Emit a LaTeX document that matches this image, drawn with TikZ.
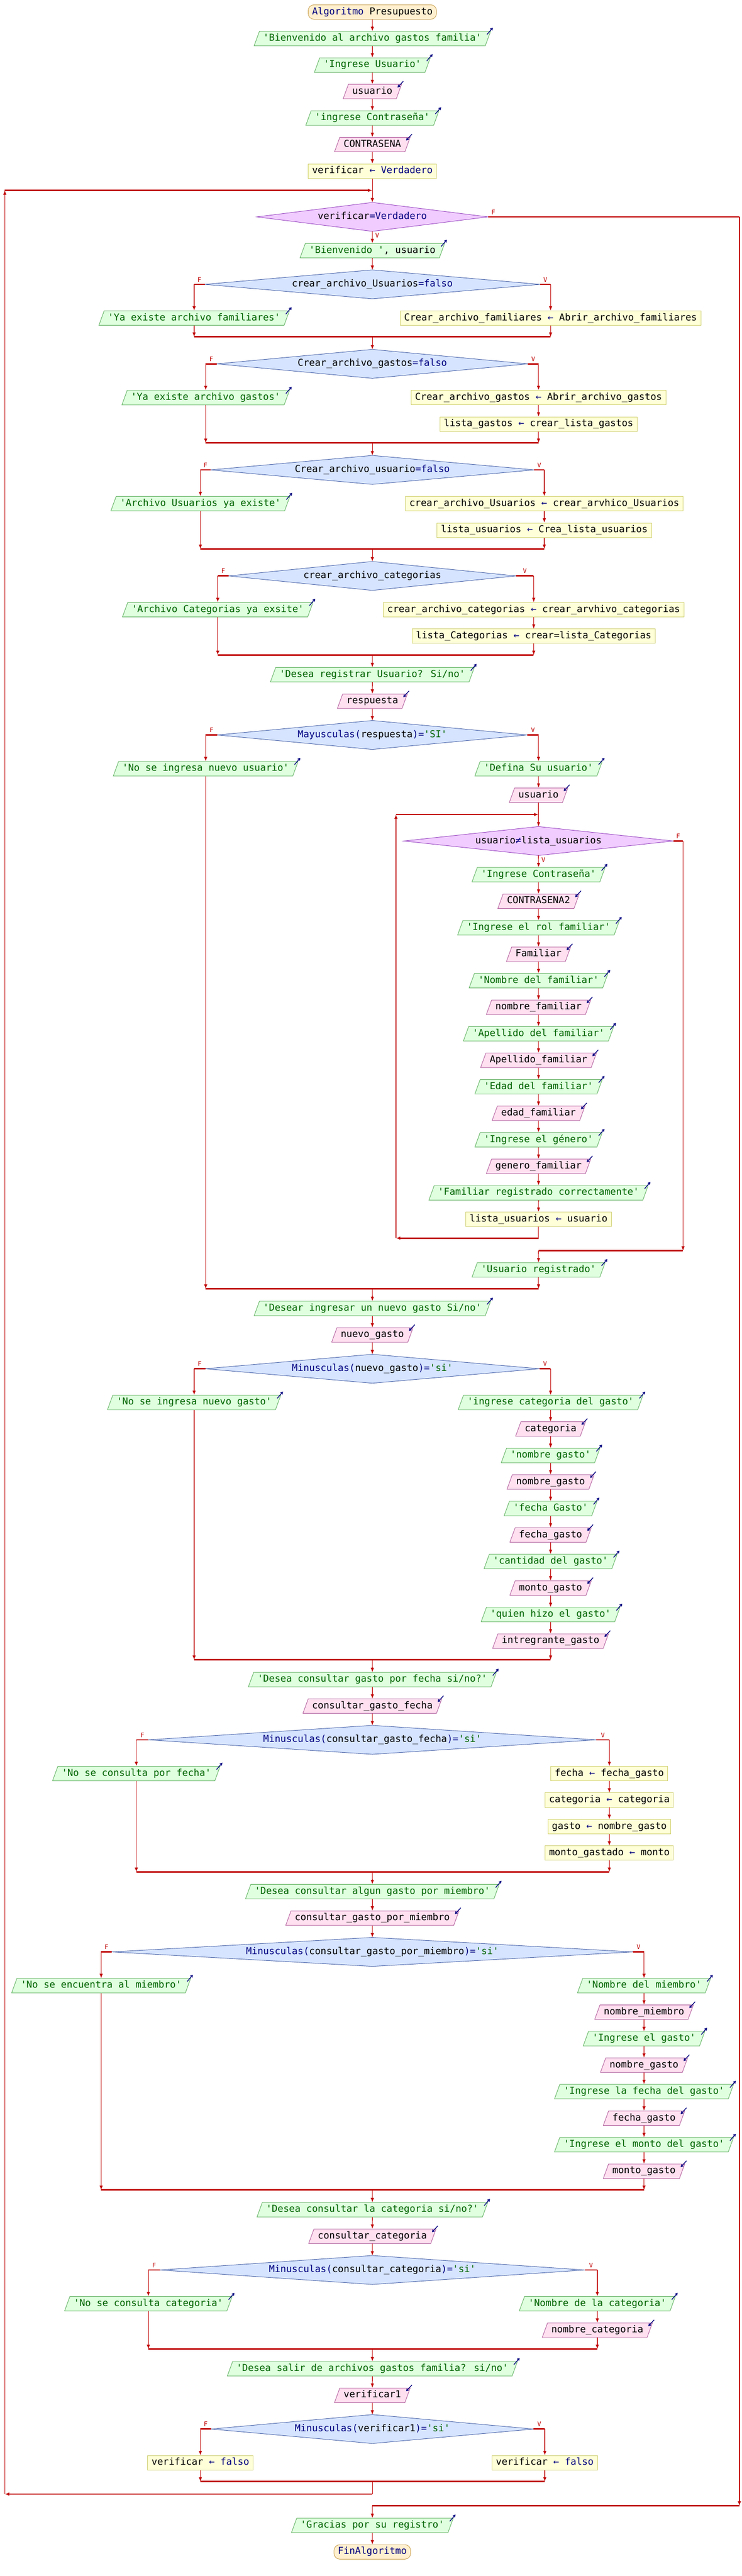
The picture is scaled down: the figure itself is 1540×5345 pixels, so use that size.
\documentclass[tikz,border=0pt]{standalone}
\usepackage{fontspec}
\newfontfamily\mono{DejaVu Sans Mono}
\usetikzlibrary{shapes.geometric,arrows.meta,calc}
\definecolor{cred}{HTML}{C00000}
\definecolor{outfill}{HTML}{DFFFDF}
\definecolor{outdraw}{HTML}{5FAF5F}
\definecolor{inpfill}{HTML}{FFE0F0}
\definecolor{inpdraw}{HTML}{B05C9C}
\definecolor{asgfill}{HTML}{FFFFD8}
\definecolor{asgdraw}{HTML}{CFCF70}
\definecolor{decfill}{HTML}{D6E4FF}
\definecolor{decdraw}{HTML}{4A64A8}
\definecolor{lpfill}{HTML}{F0CCFF}
\definecolor{lpdraw}{HTML}{9848C0}
\definecolor{termfill}{HTML}{FFF0D0}
\definecolor{termdraw}{HTML}{C8A050}
\definecolor{sgreen}{HTML}{006400}
\definecolor{navy}{HTML}{000080}
\newcommand\q{\textquotesingle}
\newcommand\Kw[1]{\textcolor{navy}{#1}}
\newcommand\Gs[1]{\textcolor{sgreen}{#1}}
\tikzset{
  base/.style={font=\mono\fontsize{19.8}{24}\selectfont, text height=14pt, text depth=4pt,
    inner xsep=8pt, inner ysep=6pt, line width=1pt, draw},
  outb/.style={base, trapezium, trapezium left angle=70, trapezium right angle=110,
    fill=outfill, draw=outdraw, text=sgreen},
  inpb/.style={base, trapezium, trapezium left angle=70, trapezium right angle=110,
    fill=inpfill, draw=inpdraw, text=black},
  asgb/.style={base, rectangle, fill=asgfill, draw=asgdraw},
  termb/.style={base, rectangle, rounded corners=12pt, fill=termfill, draw=termdraw},
  decb/.style 2 args={font=\mono\fontsize{19.8}{24}\selectfont, text height=14pt, text depth=4pt,
    diamond, inner sep=0pt, outer sep=0pt, minimum width=#1, minimum height=60pt, aspect=#2,
    fill=decfill, draw=decdraw, line width=1pt},
  loopb/.style 2 args={decb={#1}{#2}, fill=lpfill, draw=lpdraw},
  tipA/.style={-{Latex[length=9pt,width=7pt]}},
  flow/.style={draw=cred, line width=1.3pt, tipA},
  jline/.style={draw=cred, line width=3pt},
  stub/.style={draw=cred, line width=3pt},
  fv/.style={font=\mono\fontsize{13}{15}\selectfont, text=cred, inner sep=0pt},
  icon/.style={draw=navy, line width=1.5pt, -{Straight Barb[length=4pt,width=5pt]}}
}
% #1 diamond, #2 first left, #3 last left, #4 first right, #5 last right, #6 join coordinate
\newcommand\branch[6]{%
  \draw[stub] (#1.west) -- (#1.west -| #2.north) coordinate (#1L);
  \draw[flow] (#1L) -- (#2.north);
  \draw[stub] (#1.east) -- (#1.east -| #4.north) coordinate (#1R);
  \draw[flow] (#1R) -- (#4.north);
  \draw[flow] (#3.south) -- (#3.south |- #6);
  \draw[flow] (#5.south) -- (#5.south |- #6);
  \draw[jline] (#3.south |- #6) -- (#5.south |- #6);
  \node[fv] (#1F) at ($(#1.west)!0.5!(#1L)+(0,-10)$) {F};
  \node[fv] (#1V) at ($(#1.east)!0.5!(#1R)+(0,-10)$) {V};
}
\begin{document}
\begin{tikzpicture}[x=1pt,y=-1pt]
\fill[white] (0,0) rectangle (1540,5345);
\useasboundingbox (0,0) rectangle (1540,5345);

\node[termb] (n1) at (773,25) {\Kw{Algoritmo} Presupuesto};
\node[outb] (n2) at (773,80) {\q Bienvenido al archivo gastos familia\q};
\node[outb] (n3) at (773,135) {\q Ingrese Usuario\q};
\node[inpb] (n4) at (773,190) {usuario};
\node[outb] (n5) at (773,245) {\q ingrese Contraseña\q};
\node[inpb] (n6) at (773,300) {CONTRASENA};
\node[asgb] (n7) at (773,355) {verificar \Kw{←} \Kw{Verdadero}};
\node[loopb={480pt}{8}] (d1) at (773,450) {verificar\Kw{=Verdadero}};
\node[outb] (n8) at (773,520) {\q Bienvenido \q\textcolor{black}{, usuario}};
\node[decb={696pt}{11.6}] (d2) at (773,590) {crear\_archivo\_Usuarios\Kw{=falso}};
\node[outb] (n9) at (403,660) {\q Ya existe archivo familiares\q};
\node[asgb] (n10) at (1143,660) {Crear\_archivo\_familiares \Kw{←} Abrir\_archivo\_familiares};
\node[decb={646pt}{10.77}] (d3) at (773,755) {Crear\_archivo\_gastos\Kw{=falso}};
\node[outb] (n11) at (427,825) {\q Ya existe archivo gastos\q};
\node[asgb] (n12) at (1118,825) {Crear\_archivo\_gastos \Kw{←} Abrir\_archivo\_gastos};
\node[asgb] (n13) at (1118,880) {lista\_gastos \Kw{←} crear\_lista\_gastos};
\node[decb={672pt}{11.2}] (d4) at (773,975) {Crear\_archivo\_usuario\Kw{=falso}};
\node[outb] (n14) at (416,1045) {\q Archivo Usuarios ya existe\q};
\node[asgb] (n15) at (1130,1045) {crear\_archivo\_Usuarios \Kw{←} crear\_arvhico\_Usuarios};
\node[asgb] (n16) at (1130,1100) {lista\_usuarios \Kw{←} Crea\_lista\_usuarios};
\node[decb={596pt}{9.93}] (d5) at (773,1195) {crear\_archivo\_categorias};
\node[outb] (n17) at (452,1265) {\q Archivo Categorias ya exsite\q};
\node[asgb] (n18) at (1108,1265) {crear\_archivo\_categorias \Kw{←} crear\_arvhivo\_categorias};
\node[asgb] (n19) at (1108,1320) {lista\_Categorias \Kw{←} crear=lista\_Categorias};
\node[outb] (n20) at (773,1400) {\q Desea registrar Usuario? Si/no\q};
\node[inpb] (n21) at (773,1455) {respuesta};
\node[decb={644pt}{10.73}] (d6) at (773,1525) {\Kw{Mayusculas(}respuesta\Kw{)=}\Gs{\q SI\q}};
\node[outb] (n22) at (427,1595) {\q No se ingresa nuevo usuario\q};
\node[outb] (n23) at (1118,1595) {\q Defina Su usuario\q};
\node[inpb] (n24) at (1118,1650) {usuario};
\node[loopb={560pt}{9.33}] (d7) at (1118,1745) {usuario\Kw{≠}lista\_usuarios};
\node[outb] (n25) at (1118,1815) {\q Ingrese Contraseña\q};
\node[inpb] (n26) at (1118,1870) {CONTRASENA2};
\node[outb] (n27) at (1118,1925) {\q Ingrese el rol familiar\q};
\node[inpb] (n28) at (1118,1980) {Familiar};
\node[outb] (n29) at (1118,2035) {\q Nombre del familiar\q};
\node[inpb] (n30) at (1118,2090) {nombre\_familiar};
\node[outb] (n31) at (1118,2145) {\q Apellido del familiar\q};
\node[inpb] (n32) at (1118,2200) {Apellido\_familiar};
\node[outb] (n33) at (1118,2255) {\q Edad del familiar\q};
\node[inpb] (n34) at (1118,2310) {edad\_familiar};
\node[outb] (n35) at (1118,2365) {\q Ingrese el género\q};
\node[inpb] (n36) at (1118,2420) {genero\_familiar};
\node[outb] (n37) at (1118,2475) {\q Familiar registrado correctamente\q};
\node[asgb] (n38) at (1118,2530) {lista\_usuarios \Kw{←} usuario};
\node[outb] (n39) at (1118,2635) {\q Usuario registrado\q};
\node[outb] (n40) at (773,2715) {\q Desear ingresar un nuevo gasto Si/no\q};
\node[inpb] (n41) at (773,2770) {nuevo\_gasto};
\node[decb={694pt}{11.57}] (d8) at (773,2840) {\Kw{Minusculas(}nuevo\_gasto\Kw{)=}\Gs{\q si\q}};
\node[outb] (n42) at (403,2910) {\q No se ingresa nuevo gasto\q};
\node[outb] (n43) at (1143,2910) {\q ingrese categoria del gasto\q};
\node[inpb] (n44) at (1143,2965) {categoria};
\node[outb] (n45) at (1143,3020) {\q nombre gasto\q};
\node[inpb] (n46) at (1143,3075) {nombre\_gasto};
\node[outb] (n47) at (1143,3130) {\q fecha Gasto\q};
\node[inpb] (n48) at (1143,3185) {fecha\_gasto};
\node[outb] (n49) at (1143,3240) {\q cantidad del gasto\q};
\node[inpb] (n50) at (1143,3295) {monto\_gasto};
\node[outb] (n51) at (1143,3350) {\q quien hizo el gasto\q};
\node[inpb] (n52) at (1143,3405) {intregrante\_gasto};
\node[outb] (n53) at (773,3485) {\q Desea consultar gasto por fecha si/no?\q};
\node[inpb] (n54) at (773,3540) {consultar\_gasto\_fecha};
\node[decb={930pt}{15.5}] (d9) at (773,3610) {\Kw{Minusculas(}consultar\_gasto\_fecha\Kw{)=}\Gs{\q si\q}};
\node[outb] (n55) at (283,3680) {\q No se consulta por fecha\q};
\node[asgb] (n56) at (1265,3680) {fecha \Kw{←} fecha\_gasto};
\node[asgb] (n57) at (1265,3735) {categoria \Kw{←} categoria};
\node[asgb] (n58) at (1265,3790) {gasto \Kw{←} nombre\_gasto};
\node[asgb] (n59) at (1265,3845) {monto\_gastado \Kw{←} monto};
\node[outb] (n60) at (773,3925) {\q Desea consultar algun gasto por miembro\q};
\node[inpb] (n61) at (773,3980) {consultar\_gasto\_por\_miembro};
\node[decb={1082pt}{18.03}] (d10) at (773,4050) {\Kw{Minusculas(}consultar\_gasto\_por\_miembro\Kw{)=}\Gs{\q si\q}};
\node[outb] (n62) at (210,4120) {\q No se encuentra al miembro\q};
\node[outb] (n63) at (1337,4120) {\q Nombre del miembro\q};
\node[inpb] (n64) at (1337,4175) {nombre\_miembro};
\node[outb] (n65) at (1337,4230) {\q Ingrese el gasto\q};
\node[inpb] (n66) at (1337,4285) {nombre\_gasto};
\node[outb] (n67) at (1337,4340) {\q Ingrese la fecha del gasto\q};
\node[inpb] (n68) at (1337,4395) {fecha\_gasto};
\node[outb] (n69) at (1337,4450) {\q Ingrese el monto del gasto\q};
\node[inpb] (n70) at (1337,4505) {monto\_gasto};
\node[outb] (n71) at (773,4585) {\q Desea consultar la categoria si/no?\q};
\node[inpb] (n72) at (773,4640) {consultar\_categoria};
\node[decb={882pt}{14.7}] (d11) at (773,4710) {\Kw{Minusculas(}consultar\_categoria\Kw{)=}\Gs{\q si\q}};
\node[outb] (n73) at (308,4780) {\q No se consulta categoria\q};
\node[outb] (n74) at (1240,4780) {\q Nombre de la categoria\q};
\node[inpb] (n75) at (1240,4835) {nombre\_categoria};
\node[outb] (n76) at (773,4915) {\q Desea salir de archivos gastos familia? si/no\q};
\node[inpb] (n77) at (773,4970) {verificar1};
\node[decb={670pt}{11.17}] (d12) at (773,5040) {\Kw{Minusculas(}verificar1\Kw{)=}\Gs{\q si\q}};
\node[asgb] (n78) at (416,5110) {verificar \Kw{←} \Kw{falso}};
\node[asgb] (n79) at (1131,5110) {verificar \Kw{←} \Kw{falso}};
\node[outb] (n80) at (773,5240) {\q Gracias por su registro\q};
\node[termb, text=navy] (n81) at (773,5295) {FinAlgoritmo};

% coordinates
\coordinate (J2) at (773,699);
\coordinate (J3) at (773,919);
\coordinate (J4) at (773,1139);
\coordinate (J5) at (773,1359);
\coordinate (J6) at (773,2674);
\coordinate (J8) at (773,3444);
\coordinate (J9) at (773,3884);
\coordinate (J10) at (773,4544);
\coordinate (J11) at (773,4874);
\coordinate (J12) at (773,5149);
\coordinate (L1t) at (773,395);
\coordinate (L1l) at (10,395);
\coordinate (L1b) at (10,5175);
\coordinate (L1c) at (773,5175);
\coordinate (X1r) at (1535,450);
\coordinate (X1b) at (1535,5199);
\coordinate (X1c) at (773,5199);
\coordinate (L2t) at (1118,1690);
\coordinate (L2l) at (822,1690);
\coordinate (L2b) at (822,2569);
\coordinate (L2c) at (1118,2569);
\coordinate (X2r) at (1418,1745);
\coordinate (X2b) at (1418,2595);
\coordinate (X2c) at (1118,2595);

% straight sequences
\foreach \a/\b in {n1/n2,n2/n3,n3/n4,n4/n5,n5/n6,n6/n7,n7/d1,d1/n8,n8/d2,
  n12/n13,n15/n16,n18/n19,n20/n21,n21/d6,n23/n24,n24/d7,d7/n25,
  n25/n26,n26/n27,n27/n28,n28/n29,n29/n30,n30/n31,n31/n32,n32/n33,n33/n34,
  n34/n35,n35/n36,n36/n37,n37/n38,n40/n41,n41/d8,
  n43/n44,n44/n45,n45/n46,n46/n47,n47/n48,n48/n49,n49/n50,n50/n51,n51/n52,
  n53/n54,n54/d9,n56/n57,n57/n58,n58/n59,n60/n61,n61/d10,
  n63/n64,n64/n65,n65/n66,n66/n67,n67/n68,n68/n69,n69/n70,
  n71/n72,n72/d11,n74/n75,n76/n77,n77/d12,n80/n81}
  {\draw[flow] (\a.south) -- (\b.north);}

% branches
\branch{d2}{n9}{n9}{n10}{n10}{J2}
\branch{d3}{n11}{n11}{n12}{n13}{J3}
\branch{d4}{n14}{n14}{n15}{n16}{J4}
\branch{d5}{n17}{n17}{n18}{n19}{J5}
\branch{d6}{n22}{n22}{n23}{n39}{J6}
\branch{d8}{n42}{n42}{n43}{n52}{J8}
\branch{d9}{n55}{n55}{n56}{n59}{J9}
\branch{d10}{n62}{n62}{n63}{n70}{J10}
\branch{d11}{n73}{n73}{n74}{n75}{J11}
\branch{d12}{n78}{n78}{n79}{n79}{J12}
\draw[flow] (J2) -- (d3.north);
\draw[flow] (J3) -- (d4.north);
\draw[flow] (J4) -- (d5.north);
\draw[flow] (J5) -- (n20.north);
\draw[flow] (J6) -- (n40.north);
\draw[flow] (J8) -- (n53.north);
\draw[flow] (J9) -- (n60.north);
\draw[flow] (J10) -- (n71.north);
\draw[flow] (J11) -- (n76.north);

% main loop
\draw[jline, tipA] (L1l) -- (L1t);
\draw[flow] (L1b) -- (L1l);
\draw[draw=cred, line width=1.3pt] (J12) -- (L1c);
\draw[jline, tipA] (L1c) -- (L1b);
\draw[jline] (d1.east) -- (X1r);
\draw[flow] (X1r) -- (X1b);
\draw[jline] (X1b) -- (X1c);
\draw[flow] (X1c) -- (n80.north);
\node[fv] (d1F) at ($(d1.east)+(11,-10)$) {F};
\node[fv] (d1V) at ($(d1.south)+(10,9)$) {V};

% inner loop
\draw[jline, tipA] (L2l) -- (L2t);
\draw[flow] (L2b) -- (L2l);
\draw[draw=cred, line width=1.3pt] (n38.south) -- (L2c);
\draw[jline, tipA] (L2c) -- (L2b);
\draw[stub] (d7.east) -- (X2r);
\draw[flow] (X2r) -- (X2b);
\draw[jline] (X2b) -- (X2c);
\draw[flow] (X2c) -- (n39.north);
\node[fv] (d7F) at ($(d7.east)+(10,-10)$) {F};
\node[fv] (d7V) at ($(d7.south)+(10,9)$) {V};

% output / input icons
\foreach \n in {n2,n3,n5,n8,n9,n11,n14,n17,n20,n22,n23,n25,n27,n29,n31,n33,n35,n37,n39,
  n40,n42,n43,n45,n47,n49,n51,n53,n55,n60,n62,n63,n65,n67,n69,n71,n73,n74,n76,n80}
  {\draw[icon] ($(\n.top right corner)+(-8,7)$) -- ++(12,-14);}
\foreach \n in {n4,n6,n21,n24,n26,n28,n30,n32,n34,n36,n41,n44,n46,n48,n50,n52,n54,
  n61,n64,n66,n68,n70,n72,n75,n77}
  {\draw[icon] ($(\n.top right corner)+(3,-6)$) -- ++(-12,13);}
\end{tikzpicture}
\end{document}
